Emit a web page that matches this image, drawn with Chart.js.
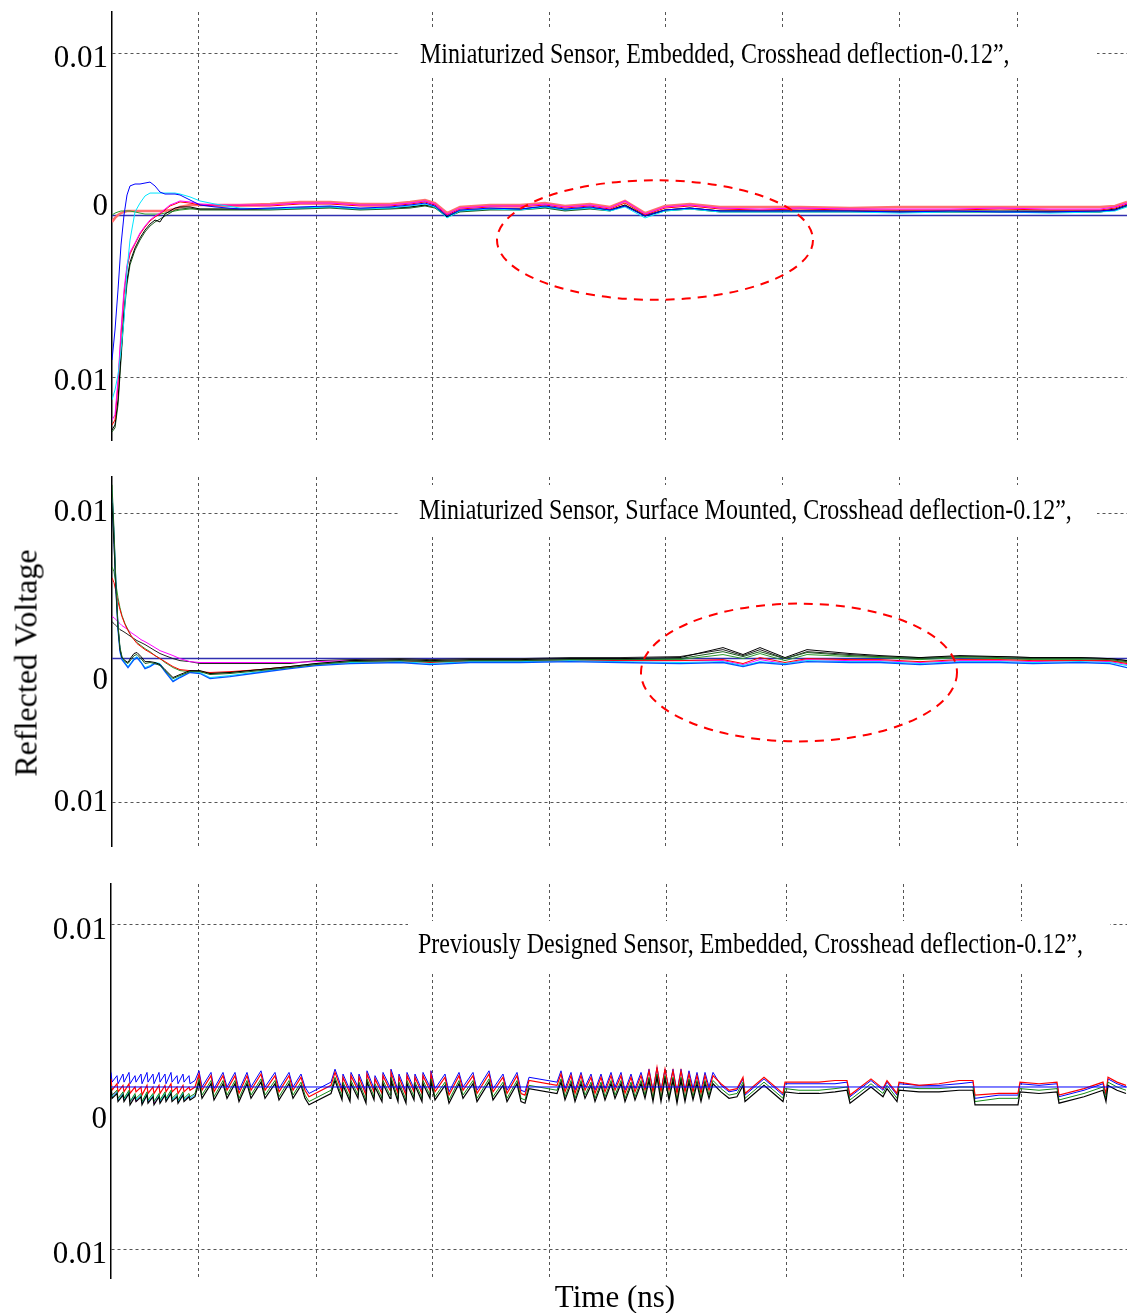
<!DOCTYPE html>
<html>
<head>
<meta charset="utf-8">
<script src="https://cdn.jsdelivr.net/npm/chart.js@4.4.1/dist/chart.umd.min.js"></script>
<style>
  body { margin: 0; background: #fff; }
  #wrap { position: relative; width: 1127px; height: 1313px; overflow: hidden; font-family: "Liberation Serif", "Times New Roman", serif; color: #000; }
  canvas { position: absolute; left: 0; }
  #ylab { position: absolute; left: 26px; top: 663px; transform: translate(-50%, -50%) rotate(-90deg); font-size: 32px; white-space: nowrap; }
  #xlab { position: absolute; left: 615px; top: 1297px; transform: translate(-50%, -50%); font-size: 31px; white-space: nowrap; }
</style>
</head>
<body>
<div id="wrap">
  <canvas id="c1" width="1127" height="450" style="top:0px"></canvas>
  <canvas id="c2" width="1127" height="400" style="top:460px"></canvas>
  <canvas id="c3" width="1127" height="420" style="top:870px"></canvas>
  <div id="ylab">Reflected Voltage</div>
  <div id="xlab">Time (ns)</div>
</div>
<script>
// vertical grid positions (ns)
const gridTop = [0.86, 2.04, 3.2, 4.37, 5.54, 6.71, 7.88, 9.05];
const gridBottom = [0.87, 2.05, 3.21, 4.38, 5.56, 6.75, 7.92, 9.1];

// ---- panel 1: miniaturized sensor, embedded ----
const p1Time = [0,0.03,0.06,0.09,0.12,0.15,0.18,0.23,0.28,0.33,0.38,0.43,0.48,0.53,0.58,0.63,0.68,0.78,0.88,1.03,
  1.28,1.58,1.88,2.18,2.48,2.78,2.98,3.13,3.23,3.35,3.48,3.78,4.08,4.33,4.53,4.78,4.98,5.13,5.33,5.53,5.78,6.08,6.48,6.88,7.38,7.88,8.38,8.88,9.38,9.88,10.03,10.15];
const p1Blue = [-0.00895,-0.00709,-0.00461,-0.00183,0.00003,0.00127,0.00183,0.00195,0.00195,0.00201,0.00207,0.00183,0.00145,0.00133,0.00133,0.00133,0.00127,0.00096,0.00065,0.00053,
  0.00040,0.00046,0.00053,0.00059,0.00046,0.00053,0.00065,0.00077,0.00059,-0.00003,0.00034,0.00046,0.00040,0.00059,0.00040,0.00053,0.00034,0.00059,-0.00003,0.00034,0.00046,0.00028,0.00028,0.00028,0.00028,0.00022,0.00028,0.00022,0.00022,0.00028,0.00034,0.00065];
const p1Cyan = [-0.01142,-0.01080,-0.00987,-0.00833,-0.00647,-0.00337,-0.00152,0.00022,0.00077,0.00121,0.00139,0.00139,0.00139,0.00139,0.00139,0.00139,0.00133,0.00115,0.00090,0.00071,
  0.00046,0.00040,0.00046,0.00053,0.00040,0.00046,0.00059,0.00071,0.00053,-0.00015,0.00028,0.00040,0.00034,0.00053,0.00034,0.00046,0.00028,0.00053,-0.00015,0.00028,0.00040,0.00022,0.00022,0.00022,0.00022,0.00015,0.00022,0.00022,0.00015,0.00022,0.00028,0.00053];
const p1Magenta = [-0.01266,-0.01235,-0.01018,-0.00709,-0.00461,-0.00306,-0.00226,-0.00170,-0.00108,-0.00065,-0.00028,-0.00003,0.00015,0.00040,0.00065,0.00077,0.00090,0.00084,0.00071,0.00065,
  0.00065,0.00065,0.00077,0.00077,0.00065,0.00065,0.00077,0.00090,0.00071,0.00009,0.00046,0.00059,0.00059,0.00071,0.00053,0.00065,0.00046,0.00090,0.00009,0.00053,0.00065,0.00046,0.00040,0.00046,0.00040,0.00040,0.00040,0.00046,0.00040,0.00040,0.00053,0.00077];
const p1Red = [-0.01297,-0.01266,-0.01049,-0.00740,-0.00492,-0.00325,-0.00238,-0.00176,-0.00115,-0.00071,-0.00034,-0.00009,0.00009,0.00034,0.00059,0.00071,0.00084,0.00077,0.00065,0.00059,
  0.00059,0.00059,0.00071,0.00071,0.00059,0.00059,0.00071,0.00084,0.00065,0.00003,0.00040,0.00053,0.00053,0.00065,0.00046,0.00059,0.00040,0.00077,0.00003,0.00046,0.00059,0.00040,0.00034,0.00040,0.00034,0.00034,0.00034,0.00040,0.00034,0.00034,0.00046,0.00071];
const p1Pink = [-0.00040,-0.00015,0.00003,0.00015,0.00022,0.00028,0.00028,0.00028,0.00028,0.00028,0.00028,0.00028,0.00028,0.00028,0.00034,0.00040,0.00053,0.00065,0.00065,0.00065,
  0.00065,0.00071,0.00084,0.00084,0.00071,0.00071,0.00084,0.00096,0.00077,0.00015,0.00053,0.00065,0.00065,0.00077,0.00059,0.00071,0.00053,0.00090,0.00015,0.00059,0.00071,0.00053,0.00053,0.00053,0.00046,0.00053,0.00053,0.00053,0.00053,0.00053,0.00059,0.00084];
const p1Black = [-0.01328,-0.01297,-0.01142,-0.00864,-0.00585,-0.00399,-0.00288,-0.00201,-0.00139,-0.00090,-0.00053,-0.00028,-0.00040,0.00009,0.00028,0.00046,0.00053,0.00053,0.00040,0.00040,
  0.00040,0.00040,0.00046,0.00053,0.00040,0.00046,0.00053,0.00065,0.00053,-0.00009,0.00028,0.00040,0.00040,0.00053,0.00034,0.00046,0.00034,0.00065,-0.00003,0.00034,0.00046,0.00028,0.00028,0.00028,0.00028,0.00028,0.00028,0.00028,0.00028,0.00028,0.00040,0.00065];
const p1DarkGreen = [-0.01340,-0.01315,-0.01173,-0.00895,-0.00616,-0.00424,-0.00306,-0.00214,-0.00152,-0.00102,-0.00065,-0.00040,-0.00022,-0.00003,0.00015,0.00034,0.00040,0.00046,0.00034,0.00034,
  0.00034,0.00034,0.00040,0.00046,0.00034,0.00040,0.00046,0.00059,0.00046,-0.00009,0.00022,0.00034,0.00034,0.00046,0.00028,0.00040,0.00028,0.00059,-0.00003,0.00028,0.00040,0.00022,0.00022,0.00022,0.00022,0.00022,0.00022,0.00022,0.00022,0.00022,0.00034,0.00059];
const p1Green = [0.00003,0.00015,0.00022,0.00028,0.00028,0.00028,0.00028,0.00022,0.00015,0.00009,0.00009,0.00009,0.00009,0.00015,0.00022,0.00028,0.00034,0.00040,0.00040,0.00040,
  0.00040,0.00040,0.00046,0.00053,0.00040,0.00046,0.00053,0.00065,0.00053,-0.00003,0.00028,0.00040,0.00040,0.00053,0.00034,0.00046,0.00034,0.00065,0.00003,0.00034,0.00046,0.00028,0.00028,0.00028,0.00028,0.00022,0.00022,0.00022,0.00022,0.00022,0.00034,0.00059];
const p1BaseTime = [0, 10.15];
const p1Base = [0, 0];

// ---- panel 2: miniaturized sensor, surface mounted ----
const p2Time = [0,0.02,0.04,0.06,0.08,0.10,0.13,0.16,0.19,0.22,0.25,0.29,0.33,0.38,0.43,0.48,0.53,0.61,0.68,0.78,0.88,0.98,1.18,1.48,
  1.78,2.04,2.38,2.88,3.18,3.58,4.08,4.58,5.08,5.68,6.11,6.31,6.48,6.73,6.95,7.38,7.68,8.08,8.48,8.88,9.21,9.68,9.98,10.15];
const p2Blue = [0.01127,0.00816,0.00471,0.00195,0.00043,-0.00012,-0.00039,-0.00067,-0.00039,-0.00012,0.00002,-0.00032,-0.00074,-0.00060,-0.00039,-0.00046,-0.00095,-0.00164,-0.00136,-0.00101,-0.00108,-0.00143,-0.00129,-0.00101,
  -0.00074,-0.00053,-0.00039,-0.00032,-0.00046,-0.00032,-0.00032,-0.00026,-0.00032,-0.00039,-0.00032,-0.00060,-0.00032,-0.00046,-0.00026,-0.00032,-0.00032,-0.00046,-0.00032,-0.00032,-0.00039,-0.00032,-0.00039,-0.00067];
const p2Cyan = [0.01161,0.00851,0.00506,0.00223,0.00057,-0.00005,-0.00032,-0.00060,-0.00032,-0.00005,0.00009,-0.00026,-0.00067,-0.00053,-0.00032,-0.00039,-0.00088,-0.00157,-0.00129,-0.00095,-0.00101,-0.00136,-0.00122,-0.00095,
  -0.00067,-0.00046,-0.00032,-0.00026,-0.00039,-0.00026,-0.00026,-0.00019,-0.00026,-0.00032,-0.00026,-0.00053,-0.00026,-0.00039,-0.00019,-0.00026,-0.00026,-0.00039,-0.00026,-0.00026,-0.00032,-0.00026,-0.00032,-0.00053];
const p2Black = [0.01071,0.00782,0.00457,0.00209,0.00057,0.00002,-0.00019,-0.00032,0.00002,0.00030,0.00037,0.00009,-0.00026,-0.00026,-0.00032,-0.00046,-0.00081,-0.00136,-0.00115,-0.00088,-0.00088,-0.00108,-0.00101,-0.00081,
  -0.00060,-0.00039,-0.00019,-0.00012,-0.00019,-0.00012,-0.00012,-0.00005,-0.00005,0.00002,0.00071,0.00023,0.00071,0.00002,0.00057,0.00030,0.00016,0.00002,0.00016,0.00009,0.00002,0.00002,-0.00005,-0.00019];
const p2DarkGreen = [0.01196,0.00885,0.00506,0.00230,0.00071,0.00009,-0.00026,-0.00039,-0.00012,0.00016,0.00023,-0.00005,-0.00039,-0.00032,-0.00039,-0.00053,-0.00088,-0.00143,-0.00122,-0.00095,-0.00095,-0.00115,-0.00108,-0.00088,
  -0.00067,-0.00046,-0.00026,-0.00019,-0.00026,-0.00019,-0.00019,-0.00012,-0.00012,-0.00005,0.00043,0.00009,0.00043,-0.00005,0.00037,0.00016,0.00009,-0.00005,0.00009,0.00002,-0.00005,-0.00005,-0.00012,-0.00026];
const p2Green = [0.00630,0.00595,0.00506,0.00416,0.00347,0.00292,0.00237,0.00195,0.00154,0.00126,0.00106,0.00085,0.00064,0.00043,0.00016,-0.00005,-0.00032,-0.00067,-0.00088,-0.00095,-0.00095,-0.00108,-0.00101,-0.00081,
  -0.00060,-0.00039,-0.00026,-0.00019,-0.00026,-0.00019,-0.00019,-0.00012,-0.00012,-0.00012,0.00023,-0.00005,0.00030,-0.00019,0.00023,0.00009,0.00002,-0.00012,0.00002,-0.00005,-0.00012,-0.00012,-0.00019,-0.00032];
const p2Red = [0.00554,0.00520,0.00457,0.00388,0.00333,0.00285,0.00230,0.00188,0.00154,0.00126,0.00099,0.00078,0.00057,0.00037,0.00016,-0.00005,-0.00026,-0.00060,-0.00081,-0.00088,-0.00095,-0.00101,-0.00095,-0.00081,
  -0.00060,-0.00046,-0.00032,-0.00026,-0.00032,-0.00026,-0.00026,-0.00019,-0.00019,-0.00019,-0.00012,-0.00039,0.00002,-0.00032,-0.00005,-0.00012,-0.00012,-0.00026,-0.00012,-0.00012,-0.00019,-0.00019,-0.00019,-0.00039];
const p2Magenta = [0.00285,0.00278,0.00264,0.00250,0.00237,0.00223,0.00209,0.00195,0.00175,0.00161,0.00147,0.00126,0.00112,0.00092,0.00071,0.00050,0.00037,0.00016,-0.00005,-0.00026,-0.00032,-0.00032,-0.00032,-0.00032,
  -0.00032,-0.00026,-0.00019,-0.00019,-0.00026,-0.00019,-0.00019,-0.00012,-0.00019,-0.00019,-0.00019,-0.00046,-0.00012,-0.00039,-0.00012,-0.00019,-0.00019,-0.00032,-0.00019,-0.00019,-0.00026,-0.00019,-0.00026,-0.00046];
const p2BlackSlow = [0.00250,0.00237,0.00223,0.00209,0.00195,0.00188,0.00175,0.00161,0.00147,0.00133,0.00119,0.00106,0.00092,0.00071,0.00050,0.00030,0.00016,-0.00005,-0.00019,-0.00026,-0.00039,-0.00039,-0.00039,-0.00039,
  -0.00039,-0.00019,-0.00012,-0.00005,-0.00012,-0.00005,-0.00005,0.00002,0.00002,0.00009,0.00057,0.00016,0.00057,-0.00005,0.00043,0.00023,0.00009,0.00002,0.00009,0.00009,0.00002,0.00002,-0.00005,-0.00019];
const p2BaseTime = [0, 10.15];
const p2Base = [-0.00005, -0.00005];

// ---- panel 3: previously designed sensor, embedded ----
const p3Time = [0,0.01,0.06,0.07,0.12,0.13,0.18,0.19,0.24,0.25,0.30,0.31,0.36,0.37,0.42,0.43,0.48,0.49,0.54,0.55,0.60,0.61,0.66,0.67,0.72,0.73,0.78,0.79,0.84,
  0.88,0.91,1.00,1.03,1.12,1.16,1.24,1.28,1.36,1.40,1.50,1.54,1.64,1.68,1.78,1.82,1.90,1.94,
  1.98,2.20,
  2.24,2.31,2.32,2.39,2.40,2.47,2.48,2.55,2.56,2.63,2.64,2.71,2.72,2.79,2.80,2.87,2.88,2.95,2.96,3.03,3.04,3.11,3.12,3.19,
  3.20,3.24,3.34,3.38,3.48,3.52,3.62,3.66,3.78,3.82,3.92,3.96,4.06,4.10,4.14,4.18,4.46,
  4.50,4.54,4.60,4.64,4.70,4.74,4.80,4.84,4.90,4.94,5.00,5.04,5.10,5.14,5.20,5.24,5.30,5.34,5.38,5.42,5.46,5.50,5.54,5.58,5.62,5.66,5.70,5.74,5.78,5.82,5.86,5.90,5.94,5.98,6.02,
  6.10,6.18,6.26,6.32,6.34,6.53,6.72,6.74,
  6.88,7.08,7.24,7.36,7.39,
  7.60,7.72,7.76,7.86,7.88,
  8.08,8.28,8.48,8.62,8.64,
  8.88,9.07,9.09,
  9.28,9.46,9.48,
  9.73,9.92,9.95,9.97,10.06,10.15];
const p3Black = [-0.0001,-0.0007,-0.0004,-0.0009,-0.0005,-0.0009,-0.0004,-0.0011,-0.0006,-0.0009,-0.0006,-0.0011,-0.0005,-0.0010,-0.0006,-0.0011,-0.0006,-0.0010,-0.0005,-0.0009,-0.0004,-0.0009,-0.0006,-0.0010,-0.0005,-0.0009,-0.0006,-0.0008,-0.0006,
  0.0003,-0.0007,0.0002,-0.0008,0.0002,-0.0007,0.0002,-0.0009,0.0002,-0.0007,0.0003,-0.0007,0.0002,-0.0008,0.0002,-0.0007,0.0001,-0.0007,
  -0.0011,-0.0004,
  0.0004,-0.0008,0.0001,-0.0009,0.0002,-0.0007,0.0001,-0.0010,0.0003,-0.0008,0,-0.0009,0.0002,-0.0007,0.0004,-0.0009,0.0001,-0.0010,0.0002,-0.0008,0.0001,-0.0009,0.0002,-0.0007,
  0.0003,-0.0008,0.0001,-0.0010,0.0002,-0.0007,0.0002,-0.0009,0.0003,-0.0008,0.0001,-0.0009,0.0002,-0.0009,-0.0010,-0.0001,-0.0004,
  0.0003,-0.0008,0.0002,-0.0009,0.0002,-0.0007,0.0001,-0.0009,0.0001,-0.0008,0.0002,-0.0007,0.0002,-0.0009,0.0001,-0.0008,0.0002,-0.0007,0.0004,-0.0009,0.0006,-0.0009,0.0005,-0.0008,0.0004,-0.0010,0.0004,-0.0009,0.0003,-0.0008,0.0002,-0.0009,0.0002,-0.0007,0.0002,
  -0.0003,-0.0007,-0.0006,0.0001,-0.0009,0.0001,-0.0009,-0.0003,
  -0.0004,-0.0004,-0.0003,-0.0002,-0.0010,
  0,-0.0006,-0.0001,-0.0009,-0.0002,
  -0.0003,-0.0003,-0.0002,-0.0002,-0.0011,
  -0.0011,-0.0011,-0.0003,
  -0.0004,-0.0003,-0.0010,
  -0.0006,-0.0002,-0.0009,0.0001,-0.0002,-0.0004];
const p3Red = [0.0005,-0.0002,0.0002,-0.0003,0.0001,-0.0003,0.0002,-0.0004,0,-0.0003,0,-0.0005,0.0001,-0.0004,0,-0.0004,0.0001,-0.0004,0.0001,-0.0003,0.0002,-0.0003,0,-0.0004,0.0001,-0.0003,0,-0.0002,0,
  0.0008,-0.0002,0.0007,-0.0003,0.0007,-0.0002,0.0007,-0.0004,0.0007,-0.0002,0.0008,-0.0002,0.0007,-0.0003,0.0007,-0.0002,0.0006,-0.0002,
  -0.0006,0.0001,
  0.0009,-0.0003,0.0006,-0.0004,0.0007,-0.0002,0.0006,-0.0005,0.0008,-0.0003,0.0005,-0.0004,0.0007,-0.0002,0.0009,-0.0004,0.0006,-0.0005,0.0007,-0.0003,0.0006,-0.0004,0.0007,-0.0002,
  0.0008,-0.0003,0.0006,-0.0005,0.0007,-0.0002,0.0007,-0.0004,0.0008,-0.0003,0.0006,-0.0004,0.0007,-0.0004,-0.0005,0.0004,0.0001,
  0.0008,-0.0003,0.0007,-0.0004,0.0007,-0.0002,0.0006,-0.0004,0.0006,-0.0003,0.0007,-0.0002,0.0007,-0.0004,0.0006,-0.0003,0.0007,-0.0002,0.0010,-0.0003,0.0012,-0.0003,0.0011,-0.0002,0.0010,-0.0004,0.0010,-0.0003,0.0008,-0.0003,0.0007,-0.0004,0.0007,-0.0002,0.0007,
  0.0002,-0.0002,-0.0001,0.0006,-0.0004,0.0006,-0.0004,0.0003,
  0.0003,0.0003,0.0004,0.0004,-0.0005,
  0.0005,-0.0001,0.0004,-0.0004,0.0003,
  0.0001,0.0002,0.0004,0.0004,-0.0005,
  -0.0004,-0.0004,0.0003,
  0.0002,0.0003,-0.0005,
  -0.0001,0.0003,-0.0004,0.0006,0.0003,0.0001];
const p3Blue = [0.0009,0.0003,0.0007,0.0002,0.0008,0.0003,0.0009,0.0002,0.0007,0.0003,0.0008,0.0002,0.0009,0.0003,0.0008,0.0002,0.0009,0.0003,0.0008,0.0002,0.0009,0.0003,0.0007,0.0002,0.0008,0.0003,0.0007,0.0002,0.0004,
  0.0010,0,0.0009,-0.0001,0.0009,0,0.0009,-0.0002,0.0009,0,0.0010,0,0.0009,-0.0001,0.0009,0,0.0008,0,
  -0.0004,0.0003,
  0.0011,-0.0001,0.0008,-0.0002,0.0009,0,0.0008,-0.0003,0.0010,-0.0001,0.0007,-0.0002,0.0009,0,0.0011,-0.0002,0.0008,-0.0003,0.0009,-0.0001,0.0008,-0.0002,0.0009,0,
  0.0010,-0.0001,0.0008,-0.0003,0.0009,0,0.0009,-0.0002,0.0010,-0.0001,0.0008,-0.0002,0.0009,-0.0002,-0.0003,0.0006,0.0003,
  0.0010,-0.0001,0.0009,-0.0002,0.0009,0,0.0008,-0.0002,0.0008,-0.0001,0.0009,0,0.0009,-0.0002,0.0008,-0.0001,0.0009,0,0.0011,-0.0002,0.0012,-0.0002,0.0011,-0.0001,0.0011,-0.0003,0.0011,-0.0002,0.0010,-0.0001,0.0009,-0.0002,0.0009,0,0.0009,
  0.0001,-0.0003,-0.0002,0.0005,-0.0005,0.0005,-0.0005,0.0002,
  0.0002,0.0002,0.0002,0.0003,-0.0006,
  0.0004,-0.0002,0.0003,-0.0005,0.0002,
  0.0001,0.0001,0.0002,0.0003,-0.0007,
  -0.0005,-0.0005,0.0002,
  0.0001,0.0002,-0.0006,
  -0.0002,0.0002,-0.0005,0.0005,0.0002,0];
const p3Green = [0.0001,-0.0005,-0.0002,-0.0007,-0.0003,-0.0007,-0.0002,-0.0009,-0.0004,-0.0007,-0.0004,-0.0009,-0.0003,-0.0008,-0.0004,-0.0009,-0.0004,-0.0008,-0.0003,-0.0007,-0.0002,-0.0007,-0.0004,-0.0008,-0.0003,-0.0007,-0.0004,-0.0006,-0.0004,
  0.0005,-0.0005,0.0004,-0.0006,0.0004,-0.0005,0.0004,-0.0007,0.0004,-0.0005,0.0005,-0.0005,0.0004,-0.0006,0.0004,-0.0005,0.0003,-0.0005,
  -0.0009,-0.0002,
  0.0006,-0.0006,0.0003,-0.0007,0.0004,-0.0005,0.0003,-0.0008,0.0005,-0.0006,0.0002,-0.0007,0.0004,-0.0005,0.0006,-0.0007,0.0003,-0.0008,0.0004,-0.0006,0.0003,-0.0007,0.0004,-0.0005,
  0.0005,-0.0006,0.0003,-0.0008,0.0004,-0.0005,0.0004,-0.0007,0.0005,-0.0006,0.0003,-0.0007,0.0004,-0.0007,-0.0008,0.0001,-0.0002,
  0.0005,-0.0006,0.0004,-0.0007,0.0004,-0.0005,0.0003,-0.0007,0.0003,-0.0006,0.0004,-0.0005,0.0004,-0.0007,0.0003,-0.0006,0.0004,-0.0005,0.0006,-0.0007,0.0008,-0.0007,0.0007,-0.0006,0.0006,-0.0008,0.0006,-0.0007,0.0005,-0.0006,0.0004,-0.0007,0.0004,-0.0005,0.0004,
  -0.0001,-0.0005,-0.0004,0.0003,-0.0007,0.0003,-0.0007,-0.0001,
  -0.0002,-0.0002,-0.0001,0,-0.0008,
  0.0002,-0.0004,0.0001,-0.0007,0,
  -0.0001,-0.0001,0,0,-0.0009,
  -0.0007,-0.0007,-0.0001,
  -0.0002,-0.0001,-0.0008,
  -0.0004,0,-0.0007,0.0003,0,-0.0002];
const p3Cyan = [-0.0002,-0.0006,-0.0003,-0.0008,-0.0004,-0.0008,-0.0003,-0.0009,-0.0005,-0.0008,-0.0005,-0.0010,-0.0004,-0.0009,-0.0005,-0.0009,-0.0005,-0.0009,-0.0004,-0.0008,-0.0003,-0.0008,-0.0005,-0.0009,-0.0004,-0.0008,-0.0005,-0.0007,-0.0005];
const p3Magenta = [0,-0.0005,-0.0003,-0.0007,-0.0004,-0.0008,-0.0004,-0.0009,-0.0006,-0.0009,-0.0006,-0.0010,-0.0005,-0.0009,-0.0006,-0.0010,-0.0006,-0.0009,-0.0005,-0.0008,-0.0004,-0.0008,-0.0005,-0.0009,-0.0004,-0.0008,-0.0006,-0.0007,-0.0005];
const p3BaseTime = [0, 10.16];
const p3Base = [0, 0];

const SERIF = '"Liberation Serif", "Times New Roman", serif';

function pts(ts, vs) {
  return vs.map((v, i) => ({ x: ts[i], y: v }));
}

// white legend box with caption + optional red dashed ellipse
const panelDecor = {
  id: 'panelDecor',
  beforeDatasetsDraw(chart, args, opts) {
    const ctx = chart.ctx;
    const b = opts.box;
    ctx.save();
    ctx.fillStyle = '#fff';
    ctx.fillRect(b.x, b.y, b.w, b.h);
    ctx.fillStyle = '#000';
    ctx.font = '30px ' + SERIF;
    ctx.textBaseline = 'alphabetic';
    ctx.translate(b.tx, b.ty);
    ctx.scale(0.8, 1);
    ctx.fillText(opts.text, 0, 0);
    ctx.restore();
  },
  afterDatasetsDraw(chart, args, opts) {
    const e = opts.ellipse;
    if (!e) return;
    const { x, y } = chart.scales;
    const ctx = chart.ctx;
    const cx = x.getPixelForValue(e.t);
    const cy = y.getPixelForValue(e.v);
    const rx = Math.abs(x.getPixelForValue(e.t + e.dt) - cx);
    const ry = Math.abs(y.getPixelForValue(e.v + e.dv) - cy);
    ctx.save();
    ctx.strokeStyle = '#ff0000';
    ctx.lineWidth = 2;
    ctx.setLineDash([9, 7]);
    ctx.beginPath();
    ctx.ellipse(cx, cy, rx, ry, 0, 0, Math.PI * 2);
    ctx.stroke();
    ctx.restore();
  }
};

function panel(id, o) {
  return new Chart(document.getElementById(id), {
    type: 'line',
    data: {
      datasets: o.series.map(s => ({
        data: pts(s.time || o.time, s.values),
        borderColor: s.color,
        borderWidth: s.width || 1,
        pointRadius: 0,
        fill: false,
        tension: 0
      }))
    },
    options: {
      responsive: false,
      animation: false,
      events: [],
      layout: { padding: { top: o.padTop, bottom: o.padBottom, left: 0, right: 0 } },
      scales: {
        x: {
          type: 'linear',
          min: 0,
          max: o.tMax,
          afterFit: s => { s.height = 0; s.paddingLeft = 0; s.paddingRight = 0; },
          afterBuildTicks: s => { s.ticks = o.grid.map(v => ({ value: v })); },
          ticks: { display: false },
          grid: { color: '#555', lineWidth: 1, drawTicks: false },
          border: { display: false, dash: [3, 3] }
        },
        y: {
          min: o.vMin,
          max: o.vMax,
          // keep the plot area where the figure has it: no label overhang padding
          afterFit: s => { s.width = o.axisLeft; s.paddingTop = 0; s.paddingBottom = 0; },
          afterBuildTicks: s => { s.ticks = [0.01, o.zeroAt, -0.01].map(v => ({ value: v })); },
          ticks: {
            callback: v => (Math.abs(v) > 0.005 ? '0.01' : '0'),
            color: '#000',
            font: { family: SERIF, size: 31 },
            padding: 4,
            labelOffset: o.labelShift
          },
          grid: {
            color: c => (c.tick && Math.abs(Math.abs(c.tick.value) - 0.01) < 1e-9 ? '#555' : 'rgba(0,0,0,0)'),
            drawTicks: false
          },
          border: { display: true, color: '#000', width: 1.5, dash: [3, 3] }
        }
      },
      plugins: {
        legend: { display: false },
        tooltip: { enabled: false },
        panelDecor: o.decor
      }
    },
    plugins: [panelDecor]
  });
}

panel('c1', {
  time: p1Time, tMax: 10.15, grid: gridTop,
  vMin: -0.0139, vMax: 0.0126, zeroAt: 0.00084, labelShift: 5,
  padTop: 12, padBottom: 10, axisLeft: 112,
  series: [
    { values: p1Blue, color: '#0000ff' },
    { values: p1Cyan, color: '#00e5ff' },
    { values: p1Magenta, color: '#ff00ff' },
    { values: p1Red, color: '#ff0000' },
    { values: p1Black, color: '#000000' },
    { values: p1DarkGreen, color: '#1f5f1f' },
    { values: p1Green, color: '#2e9a2e' },
    { values: p1Pink, color: '#ff7070', width: 2.5 },
    { time: p1BaseTime, values: p1Base, color: '#3030b0', width: 1.5 }
  ],
  decor: {
    text: 'Miniaturized Sensor, Embedded, Crosshead deflection-0.12\u201d,',
    box: { x: 398, y: 29, w: 699, h: 49, tx: 420, ty: 63 },
    ellipse: { t: 5.43, v: -0.00152, dt: 1.58, dv: 0.0037 }
  }
});

panel('c2', {
  time: p2Time, tMax: 10.15, grid: gridTop,
  vMin: -0.0130, vMax: 0.0125, zeroAt: -0.00157, labelShift: 0,
  padTop: 17, padBottom: 14, axisLeft: 112,
  series: [
    { values: p2DarkGreen, color: '#1f5f1f' },
    { values: p2Black, color: '#000000' },
    { values: p2Blue, color: '#0055ff', width: 1.3 },
    { values: p2Cyan, color: '#00e5ff' },
    { values: p2Red, color: '#ff0000' },
    { values: p2Green, color: '#2e9a2e' },
    { values: p2Magenta, color: '#ff00ff' },
    { values: p2BlackSlow, color: '#222222' },
    { time: p2BaseTime, values: p2Base, color: '#3030b0', width: 1.5 }
  ],
  decor: {
    text: 'Miniaturized Sensor, Surface Mounted, Crosshead deflection-0.12\u201d,',
    box: { x: 398, y: 25, w: 699, h: 49, tx: 419, ty: 59 },
    ellipse: { t: 6.87, v: -0.00101, dt: 1.58, dv: 0.00476 }
  }
});

panel('c3', {
  time: p3Time, tMax: 10.16, grid: gridBottom,
  vMin: -0.01179, vMax: 0.01253, zeroAt: -0.00167, labelShift: 6,
  padTop: 14, padBottom: 12, axisLeft: 111,
  series: [
    { time: p3BaseTime, values: p3Base, color: '#0000ff' },
    { values: p3Black, color: '#000000', width: 1.2 },
    { values: p3Green, color: '#168a16' },
    { values: p3Cyan, color: '#00e5ff' },
    { values: p3Magenta, color: '#ff00ff' },
    { values: p3Red, color: '#ff0000', width: 1.2 },
    { values: p3Blue, color: '#0000ff' }
  ],
  decor: {
    text: 'Previously Designed Sensor, Embedded, Crosshead deflection-0.12\u201d,',
    box: { x: 408, y: 51, w: 702, h: 52, tx: 418, ty: 83 }
  }
});
</script>
</body>
</html>
